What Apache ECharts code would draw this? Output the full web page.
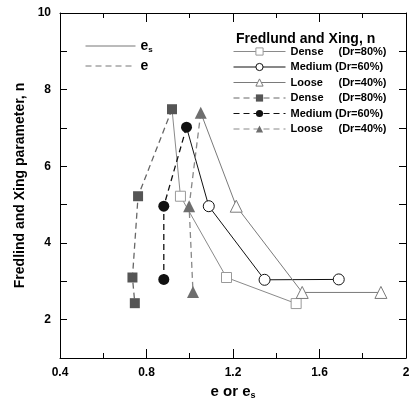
<!DOCTYPE html>
<html><head><meta charset="utf-8">
<script src="https://cdn.jsdelivr.net/npm/echarts@6/dist/echarts.min.js"></script>
<style>html,body{margin:0;padding:0;background:#fff}#c{width:411px;height:401px}</style>
</head><body><div id="c"></div>
<script>
// e_s (solid, open markers); first point is shared with the e series (no marker)
const esDense  = [[0.918, 7.49], [0.957, 5.22], [1.17, 3.10], [1.492, 2.42]];
const esMedium = [[0.985, 7.02], [1.088, 4.96], [1.346, 3.04], [1.689, 3.05]];
const esLoose  = [[1.051, 7.40], [1.215, 4.96], [1.52, 2.71], [1.884, 2.71]];
// e (dashed, filled markers)
const eDense  = [[0.918, 7.49], [0.761, 5.22], [0.735, 3.10], [0.746, 2.43]];
const eMedium = [[0.985, 7.02], [0.88, 4.96], [0.88, 3.05]];
const eLoose  = [[1.051, 7.40], [0.997, 4.96], [1.015, 2.72]];
const xTicks = [0.4, 0.8, 1.2, 1.6, 2];
const yLabels = [2, 4, 6, 8, 10];

const FONT = 'Liberation Sans, Arial, sans-serif';
const chart = echarts.init(document.getElementById('c'));
const firstNoSym = arr => arr.map((p, i) => i === 0 ? {value: p, symbol: 'none'} : p);
const dash = [6, 4];
const labelsMap = {
  sD: '{a|Dense}{b|(Dr=80%)}', sM: '{m|Medium }{b|(Dr=60%)}', sL: '{a|Loose}{b|(Dr=40%)}',
  dD: '{a|Dense}{b|(Dr=80%)}', dM: '{m|Medium }{b|(Dr=60%)}', dL: '{a|Loose}{b|(Dr=40%)}',
  es: '{e|e}{s|s}', e: '{e|e}'
};
const richLegend = {
  a: {width: 48, fontFamily: FONT, fontWeight: 'bold', fontSize: 11, color: '#000'},
  m: {fontFamily: FONT, fontWeight: 'bold', fontSize: 11, color: '#000'},
  b: {fontFamily: FONT, fontWeight: 'bold', fontSize: 11, color: '#000'},
  e: {fontFamily: FONT, fontWeight: 'bold', fontSize: 14, color: '#000'},
  s: {fontFamily: FONT, fontWeight: 'bold', fontSize: 8, color: '#000', padding: [8, 0, 0, 0]}
};
const axisCommon = {
  axisLine: {show: true, onZero: false, lineStyle: {color: '#000', width: 1}},
  splitLine: {show: false}
};
const grayS = '#8a8a8a', grayL = '#7a7a7a', darkSq = '#555', black = '#111';
const openStyle = c => ({color: '#fff', borderColor: c, borderWidth: 1});
chart.setOption({
  animation: false,
  backgroundColor: '#fff',
  title: {text: 'Fredlund and Xing, n', left: 231, top: 27,
    textStyle: {fontFamily: FONT, fontWeight: 'bold', fontSize: 14, color: '#000'}},
  grid: {left: 60, right: 5, top: 13, bottom: 43, outerBoundsMode: 'none', containLabel: false},
  legend: [{
    data: ['sD', 'sM', 'sL', 'dD', 'dM', 'dL'],
    orient: 'vertical', left: 228, top: 41, itemWidth: 52, itemHeight: 9, itemGap: 4.5,
    itemStyle: {borderWidth: 1}, lineStyle: {width: 1},
    formatter: n => labelsMap[n], textStyle: {rich: richLegend}
  }, {
    data: ['es', 'e'],
    orient: 'vertical', left: 80, top: 34, itemWidth: 50, itemHeight: 12, itemGap: 5,
    lineStyle: {width: 1},
    formatter: n => labelsMap[n], textStyle: {rich: richLegend}, itemStyle: {opacity: 0}
  }],
  xAxis: [{
    type: 'value', min: 0.4, max: 2, interval: 0.4, position: 'bottom',
    ...axisCommon,
    axisTick: {inside: true, length: 9, lineStyle: {color: '#000'}},
    minorTick: {show: true, splitNumber: 2, length: 5, lineStyle: {color: '#000'}},
    axisLabel: {formatter: v => {const r = Math.round(v * 10) / 10; return String(r);},
      fontFamily: FONT, fontWeight: 'bold', fontSize: 12, color: '#000', margin: 9},
    name: '{e|e or e}{s|s}', nameLocation: 'middle', nameGap: 23,
    nameTextStyle: {rich: {
      e: {fontFamily: FONT, fontWeight: 'bold', fontSize: 15, color: '#000'},
      s: {fontFamily: FONT, fontWeight: 'bold', fontSize: 9, color: '#000', padding: [9, 0, 0, 0]}}}
  }, {
    type: 'value', min: 0.4, max: 2, interval: 0.4, position: 'top',
    ...axisCommon,
    axisTick: {inside: true, length: 9, lineStyle: {color: '#000'}},
    minorTick: {show: true, splitNumber: 2, length: 5, lineStyle: {color: '#000'}},
    axisLabel: {show: false}
  }],
  yAxis: [{
    type: 'value', min: 1, max: 10, interval: 1, position: 'left',
    ...axisCommon,
    axisTick: {inside: true, length: 7, lineStyle: {color: '#000'}},
    axisLabel: {formatter: v => (yLabels.indexOf(v) >= 0 ? String(v) : ''),
      fontFamily: FONT, fontWeight: 'bold', fontSize: 12, color: '#000', margin: 9},
    name: 'Fredlind and Xing parameter, n', nameLocation: 'middle', nameGap: 26,
    nameTextStyle: {fontFamily: FONT, fontWeight: 'bold', fontSize: 14, color: '#000'}
  }, {
    type: 'value', min: 1, max: 10, interval: 1, position: 'right',
    ...axisCommon,
    axisTick: {inside: true, length: 7, lineStyle: {color: '#000'}},
    axisLabel: {show: false}
  }],
  series: [
    {name: 'es', type: 'line', data: [], symbol: 'none', color: '#777', lineStyle: {color: '#777', width: 1.2}},
    {name: 'e', type: 'line', data: [], symbol: 'none', color: '#777', lineStyle: {color: '#777', width: 1.2, type: dash}},
    {name: 'sD', type: 'line', data: firstNoSym(esDense), symbol: 'rect', symbolSize: 10,
      lineStyle: {color: grayS, width: 1}, itemStyle: openStyle('#999')},
    {name: 'sM', type: 'line', data: firstNoSym(esMedium), symbol: 'circle', symbolSize: 11,
      lineStyle: {color: black, width: 1}, itemStyle: openStyle(black)},
    {name: 'sL', type: 'line', data: firstNoSym(esLoose), symbol: 'triangle', symbolSize: 12,
      lineStyle: {color: grayL, width: 1}, itemStyle: openStyle(grayL)},
    {name: 'dD', type: 'line', data: eDense, symbol: 'rect', symbolSize: 10,
      color: darkSq, lineStyle: {color: '#666', width: 1.3, type: dash}},
    {name: 'dM', type: 'line', data: eMedium, symbol: 'circle', symbolSize: 11,
      color: black, lineStyle: {color: black, width: 1.3, type: dash}},
    {name: 'dL', type: 'line', data: eLoose, symbol: 'triangle', symbolSize: 12,
      color: '#6e6e6e', lineStyle: {color: '#888', width: 1.3, type: dash}}
  ]
});
</script></body></html>
